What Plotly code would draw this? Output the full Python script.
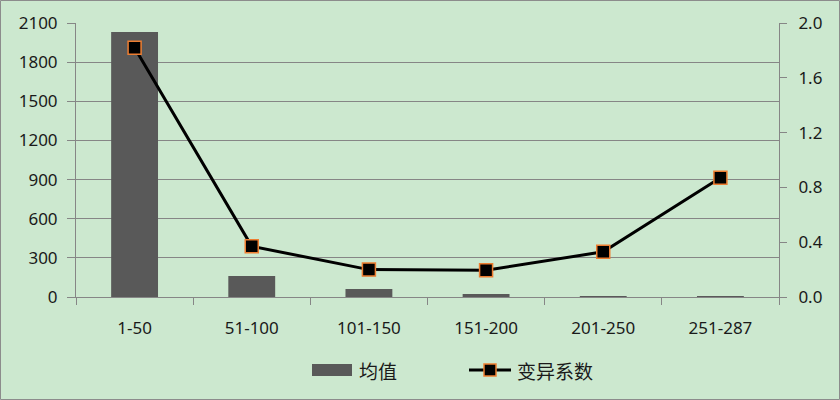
import plotly.graph_objects as go

categories = ["1-50", "51-100", "101-150", "151-200", "201-250", "251-287"]
mean_values = [2031, 161, 61, 23, 7, 1]
cv_values = [1.82, 0.37, 0.20, 0.195, 0.33, 0.87]
left_ticks = [0, 300, 600, 900, 1200, 1500, 1800, 2100]
right_ticks = [0.0, 0.4, 0.8, 1.2, 1.6, 2.0]
legend_names = ["均值", "变异系数"]

BG = "#CCE8CF"
GRID = "#868686"
BAR = "#595959"
ORANGE = "#ED7D31"
FONT = "Noto Sans, Noto Sans CJK SC, sans-serif"
CJK = "Noto Sans CJK SC, sans-serif"

fig = go.Figure()
fig.add_trace(go.Bar(
    x=categories, y=mean_values, name=legend_names[0],
    marker=dict(color=BAR, line=dict(width=0)),
    width=0.4, yaxis="y", showlegend=False,
))
fig.add_trace(go.Scatter(
    x=categories, y=cv_values, name=legend_names[1], yaxis="y2",
    mode="lines+markers", showlegend=False,
    line=dict(color="black", width=3),
    marker=dict(symbol="square", size=13, color="black",
                line=dict(color=ORANGE, width=1.5)),
))

L, R, T, B = 76, 61, 23, 103
pw = 840 - L - R
ph = 400 - T - B


def px(x):
    return (x - L) / pw


def py(y):
    return (400 - B - y) / ph


shapes = [
    dict(type="rect", xref="paper", yref="paper",
         x0=px(0.5), x1=px(839.5), y0=py(399.5), y1=py(0.5),
         line=dict(color="#8c8c8c", width=1), fillcolor="rgba(0,0,0,0)",
         layer="below"),
    # legend: bar swatch
    dict(type="rect", xref="paper", yref="paper",
         x0=px(312), x1=px(352), y0=py(376), y1=py(364),
         line=dict(width=0), fillcolor=BAR),
    # legend: line sample
    dict(type="line", xref="paper", yref="paper",
         x0=px(469), x1=px(511), y0=py(370), y1=py(370),
         line=dict(color="black", width=3)),
    dict(type="rect", xref="paper", yref="paper",
         x0=px(484), x1=px(496), y0=py(376), y1=py(364),
         line=dict(color=ORANGE, width=1.5), fillcolor="black"),
]

annotations = [
    dict(text=legend_names[0], xref="paper", yref="paper",
         x=px(357), y=py(370), xanchor="left", yanchor="middle",
         showarrow=False, font=dict(family=CJK, size=19, color="#1a1a1a")),
    dict(text=legend_names[1], xref="paper", yref="paper",
         x=px(515), y=py(370), xanchor="left", yanchor="middle",
         showarrow=False, font=dict(family=CJK, size=19, color="#1a1a1a")),
]

fig.update_layout(
    width=840, height=400,
    margin=dict(l=L, r=R, t=T, b=B, pad=0),
    paper_bgcolor=BG, plot_bgcolor=BG,
    font=dict(family=FONT, size=17, color="#1a1a1a"),
    showlegend=False,
    bargap=0.6,
    shapes=shapes,
    annotations=annotations,
    xaxis=dict(
        type="category", showgrid=False,
        showline=True, linecolor=GRID, linewidth=1,
        ticks="outside", tickson="boundaries", ticklen=7, tickcolor=GRID,
        ticklabelstandoff=16, fixedrange=True,
    ),
    yaxis=dict(
        range=[0, 2100], tickvals=left_ticks,
        showgrid=True, gridcolor=GRID, gridwidth=1,
        showline=True, linecolor=GRID, linewidth=1,
        ticks="outside", ticklen=8, tickcolor=GRID,
        ticklabelstandoff=6, zeroline=False,
    ),
    yaxis2=dict(
        range=[0, 2.0], tickvals=right_ticks, tickformat=".1f",
        overlaying="y", side="right", showgrid=False,
        showline=True, linecolor=GRID, linewidth=1,
        ticks="outside", ticklen=7, tickcolor=GRID,
        ticklabelstandoff=8, zeroline=False,
    ),
)

fig.write_html("out.html", config={"displayModeBar": False},
               post_script="document.body.style.margin='0';document.body.style.padding='0';")
